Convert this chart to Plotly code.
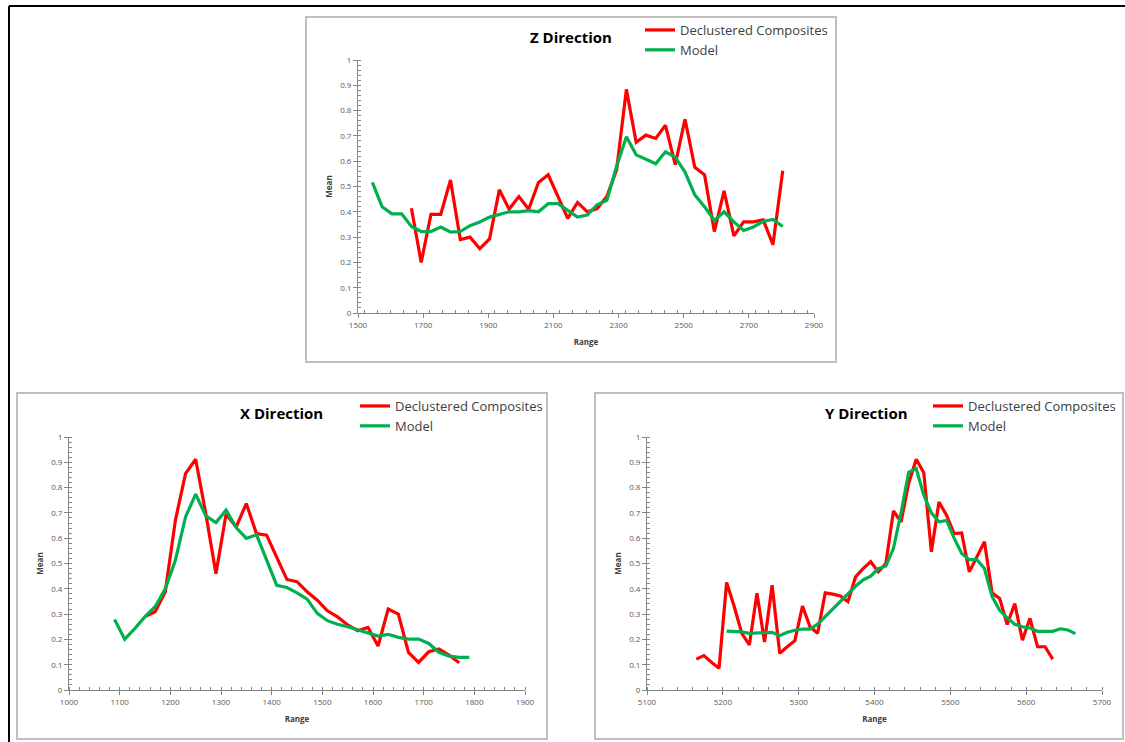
import plotly.graph_objects as go

W, H = 1125, 742

# ---- Z direction ----
z_range = [1544, 1574, 1604, 1634, 1664, 1694, 1724, 1754, 1784, 1814, 1844,
           1874, 1904, 1934, 1964, 1994, 2024, 2054, 2084, 2114, 2144, 2174,
           2204, 2234, 2264, 2294, 2324, 2354, 2384, 2414, 2444, 2474, 2504,
           2534, 2564, 2594, 2624, 2654, 2684, 2714, 2744, 2774, 2804]
z_model = [0.516, 0.42, 0.392, 0.392, 0.342, 0.322, 0.322, 0.34, 0.32, 0.322,
           0.345, 0.36, 0.379, 0.39, 0.40, 0.40, 0.405, 0.40, 0.432, 0.432,
           0.405, 0.379, 0.387, 0.428, 0.445, 0.58, 0.697, 0.625, 0.608, 0.59,
           0.637, 0.616, 0.557, 0.467, 0.42, 0.366, 0.40, 0.36, 0.326, 0.34,
           0.362, 0.37, 0.342]
z_declus = [0.414, 0.20, 0.39, 0.39, 0.526, 0.29, 0.30, 0.254, 0.293, 0.487,
            0.41, 0.46, 0.41, 0.516, 0.546, 0.46, 0.374, 0.437, 0.40, 0.413,
            0.46, 0.566, 0.884, 0.675, 0.703, 0.69, 0.742, 0.586, 0.766, 0.576,
            0.546, 0.322, 0.483, 0.305, 0.36, 0.36, 0.368, 0.27, 0.562]
z_declus_range = z_range[4:]

# ---- X direction ----
x_range = [1090, 1110, 1130, 1150, 1170, 1190, 1210, 1230, 1250, 1270, 1290,
           1310, 1330, 1350, 1370, 1390, 1410, 1430, 1450, 1470, 1490, 1510,
           1530, 1550, 1570, 1590, 1610, 1630, 1650, 1670, 1690, 1710, 1730,
           1750, 1770, 1790]
x_model = [0.279, 0.201, 0.243, 0.29, 0.329, 0.40, 0.513, 0.684, 0.774, 0.688,
           0.662, 0.711, 0.642, 0.599, 0.614, 0.513, 0.414, 0.405, 0.384, 0.359,
           0.303, 0.274, 0.26, 0.25, 0.237, 0.226, 0.213, 0.22, 0.208, 0.201,
           0.201, 0.184, 0.149, 0.134, 0.129, 0.129]
x_declus = [0.29, 0.309, 0.388, 0.671, 0.855, 0.912, 0.697, 0.46, 0.695, 0.645,
            0.737, 0.618, 0.612, 0.522, 0.437, 0.428, 0.388, 0.355, 0.313, 0.289,
            0.257, 0.234, 0.247, 0.174, 0.32, 0.30, 0.149, 0.109, 0.151, 0.162,
            0.138, 0.108]
x_declus_range = x_range[3:35]

# ---- Y direction ----
y_range = [5165, 5175, 5185, 5195, 5205, 5215, 5225, 5235, 5245, 5255, 5265,
           5275, 5285, 5295, 5305, 5315, 5325, 5335, 5345, 5355, 5365, 5375,
           5385, 5395, 5405, 5415, 5425, 5435, 5445, 5455, 5465, 5475, 5485,
           5495, 5505, 5515, 5525, 5535, 5545, 5555, 5565, 5575, 5585, 5595,
           5605, 5615, 5625, 5635, 5645, 5655, 5665]
y_declus = [0.122, 0.136, 0.11, 0.086, 0.425, 0.33, 0.224, 0.178, 0.382, 0.19,
            0.414, 0.145, 0.171, 0.195, 0.332, 0.25, 0.224, 0.384, 0.379, 0.372,
            0.349, 0.447, 0.48, 0.507, 0.467, 0.50, 0.708, 0.664, 0.816, 0.912,
            0.859, 0.546, 0.743, 0.691, 0.618, 0.621, 0.467, 0.526, 0.586, 0.384,
            0.362, 0.259, 0.342, 0.197, 0.283, 0.171, 0.171, 0.122]
y_model = [0.233, 0.233, 0.230, 0.224, 0.226, 0.229, 0.228, 0.215, 0.228, 0.236,
           0.241, 0.241, 0.26, 0.29, 0.32, 0.35, 0.38, 0.41, 0.435, 0.45, 0.48,
           0.49, 0.56, 0.70, 0.86, 0.875, 0.77, 0.70, 0.665, 0.67, 0.60, 0.54,
           0.515, 0.515, 0.48, 0.37, 0.315, 0.285, 0.26, 0.25, 0.245, 0.232,
           0.232, 0.232, 0.242, 0.237, 0.223]
y_declus_range = y_range[:48]
y_model_range = y_range[4:]

RED = "#ff0000"
GREEN = "#00b050"
FONT = "Open Sans"


def px(x):
    return x / W


def py(y):
    return 1 - y / H


fig = go.Figure()

panels = [
    # suffix, declus x, declus y, model x, model y, legend
    ("", z_declus_range, z_declus, z_range, z_model, "legend"),
    ("2", x_declus_range, x_declus, x_range, x_model, "legend2"),
    ("3", y_declus_range, y_declus, y_model_range, y_model, "legend3"),
]
for sfx, dx, dy, mx, my, leg in panels:
    fig.add_trace(go.Scatter(x=dx, y=dy, mode="lines", name="Declustered Composites",
                             line=dict(color=RED, width=3.2), xaxis="x" + sfx,
                             yaxis="y" + sfx, legend=leg))
    fig.add_trace(go.Scatter(x=mx, y=my, mode="lines", name="Model",
                             line=dict(color=GREEN, width=3.2), xaxis="x" + sfx,
                             yaxis="y" + sfx, legend=leg))


def xaxis(domain, rng, dtick, minor, anchor):
    return dict(domain=domain, range=rng, dtick=dtick, tick0=rng[0], anchor=anchor,
                showgrid=False, zeroline=False, showline=True, linecolor="#868686",
                linewidth=1, ticks="outside", ticklen=4, tickcolor="#868686",
                minor=dict(dtick=minor, ticks="inside", ticklen=3, tickcolor="#868686"),
                tickfont=dict(size=8, color="#595959", family=FONT),
                title=dict(text="<b>Range</b>", font=dict(size=8, color="#404040", family=FONT),
                           standoff=10))


def yaxis(domain, anchor):
    return dict(domain=domain, range=[0, 1], dtick=0.1, anchor=anchor,
                showgrid=False, zeroline=False, showline=True, linecolor="#868686",
                linewidth=1, ticks="outside", ticklen=4, tickcolor="#868686",
                minor=dict(dtick=0.02, ticks="inside", ticklen=3, tickcolor="#868686"),
                tickfont=dict(size=8, color="#595959", family=FONT),
                title=dict(text="<b>Mean</b>", font=dict(size=8, color="#404040", family=FONT),
                           standoff=6))


bot = [py(690), py(437)]
fig.update_layout(
    xaxis=xaxis([px(358), px(814)], [1500, 2900], 200, 40, "y"),
    yaxis=yaxis([py(313), py(60)], "x"),
    xaxis2=xaxis([px(69), px(525)], [1000, 1900], 100, 20, "y2"),
    yaxis2=yaxis(bot, "x2"),
    xaxis3=xaxis([px(647), px(1102)], [5100, 5700], 100, 20, "y3"),
    yaxis3=yaxis(bot, "x3"),
)

leg_style = dict(xanchor="left", yanchor="top", bgcolor="rgba(0,0,0,0)",
                 font=dict(size=13, color="#404040", family=FONT),
                 tracegroupgap=0, itemwidth=30)
fig.update_layout(
    legend=dict(x=px(640), y=py(15), **leg_style),
    legend2=dict(x=px(355), y=py(391), **leg_style),
    legend3=dict(x=px(928), y=py(391), **leg_style),
)

# chart titles
for text, xc, yc in [("Z Direction", 571, 37), ("X Direction", 281, 413),
                     ("Y Direction", 866, 413)]:
    fig.add_annotation(text="<b>" + text + "</b>", x=px(xc), y=py(yc), xref="paper",
                       yref="paper", showarrow=False, xanchor="center", yanchor="middle",
                       font=dict(size=15, color="#000000", family=FONT))

# chart boxes and outer frame
shapes = []
for x0, y0, x1, y1 in [(306, 17, 836, 362), (17, 393, 547, 739), (595, 393, 1123, 739)]:
    shapes.append(dict(type="rect", xref="paper", yref="paper", x0=px(x0), x1=px(x1),
                       y0=py(y1), y1=py(y0), line=dict(color="#bfbfbf", width=2),
                       layer="below"))
shapes.append(dict(type="line", xref="paper", yref="paper", x0=px(9), x1=1,
                   y0=py(6), y1=py(6), line=dict(color="#000000", width=2)))
shapes.append(dict(type="line", xref="paper", yref="paper", x0=px(9), x1=px(9),
                   y0=py(6), y1=0, line=dict(color="#000000", width=2)))
fig.update_layout(shapes=shapes)

fig.update_layout(
    width=W, height=H, margin=dict(l=0, r=0, t=0, b=0, autoexpand=False),
    paper_bgcolor="white", plot_bgcolor="white",
    font=dict(family=FONT),
)

# drop the default page margin so the figure sits at the window's origin
fig.write_html("out.html", config={"displayModeBar": False},
               post_script="document.body.style.margin='0';"
                           "document.body.style.overflow='hidden';")
